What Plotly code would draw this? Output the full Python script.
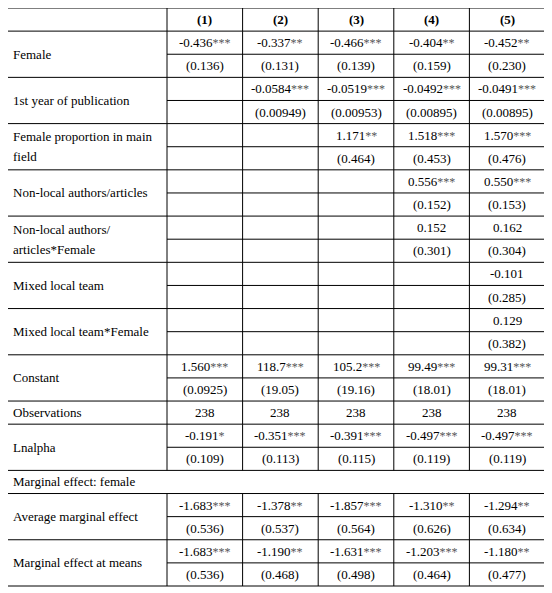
import plotly.graph_objects as go

# column headers
models = ["(1)", "(2)", "(3)", "(4)", "(5)"]

# regression rows: label, coefficients, standard errors
row_labels = [
    "Female",
    "1st year of publication",
    "Female proportion in main<br>field",
    "Non-local authors/articles",
    "Non-local authors/<br>articles*Female",
    "Mixed local team",
    "Mixed local team*Female",
    "Constant",
]
coefs = [
    ["-0.436***", "-0.337**", "-0.466***", "-0.404**", "-0.452**"],
    ["", "-0.0584***", "-0.0519***", "-0.0492***", "-0.0491***"],
    ["", "", "1.171**", "1.518***", "1.570***"],
    ["", "", "", "0.556***", "0.550***"],
    ["", "", "", "0.152", "0.162"],
    ["", "", "", "", "-0.101"],
    ["", "", "", "", "0.129"],
    ["1.560***", "118.7***", "105.2***", "99.49***", "99.31***"],
]
ses = [
    ["(0.136)", "(0.131)", "(0.139)", "(0.159)", "(0.230)"],
    ["", "(0.00949)", "(0.00953)", "(0.00895)", "(0.00895)"],
    ["", "", "(0.464)", "(0.453)", "(0.476)"],
    ["", "", "", "(0.152)", "(0.153)"],
    ["", "", "", "(0.301)", "(0.304)"],
    ["", "", "", "", "(0.285)"],
    ["", "", "", "", "(0.382)"],
    ["(0.0925)", "(19.05)", "(19.16)", "(18.01)", "(18.01)"],
]

observations = ["238", "238", "238", "238", "238"]
lnalpha_coef = ["-0.191*", "-0.351***", "-0.391***", "-0.497***", "-0.497***"]
lnalpha_se = ["(0.109)", "(0.113)", "(0.115)", "(0.119)", "(0.119)"]

marginal_title = "Marginal effect: female"
me_labels = ["Average marginal effect", "Marginal effect at means"]
me_coef = [
    ["-1.683***", "-1.378**", "-1.857***", "-1.310**", "-1.294**"],
    ["-1.683***", "-1.190**", "-1.631***", "-1.203***", "-1.180**"],
]
me_se = [
    ["(0.536)", "(0.537)", "(0.564)", "(0.626)", "(0.634)"],
    ["(0.536)", "(0.468)", "(0.498)", "(0.464)", "(0.477)"],
]

# table geometry (page pixels)
W, H = 552, 593
PAGE_MARGIN = 8  # default body margin of the html page
LEFT, LABEL_RIGHT, RIGHT = 4, 167, 545
TOP, BOTTOM = 8, 586
N_SUB = 25
ROW_H = (BOTTOM - TOP) / N_SUB
COL_W = (RIGHT - LABEL_RIGHT) / len(models)
LINE_GAP = 20
FONT = dict(family="Liberation Serif", size=13, color="black")

# blocks: (kind, label, list of value rows)
blocks = [("header", "", [models])]
for lab, c, s in zip(row_labels, coefs, ses):
    blocks.append(("pair", lab, [c, s]))
blocks.append(("single", "Observations", [observations]))
blocks.append(("pair", "Lnalpha", [lnalpha_coef, lnalpha_se]))
blocks.append(("title", marginal_title, []))
for lab, c, s in zip(me_labels, me_coef, me_se):
    blocks.append(("pair", lab, [c, s]))

fig = go.Figure()
shapes = []
annotations = []


def hline(x0, x1, y):
    shapes.append(dict(type="line", xref="x", yref="y", x0=x0, x1=x1, y0=y, y1=y,
                       line=dict(color="black", width=1)))


def vline(x, y0, y1):
    shapes.append(dict(type="line", xref="x", yref="y", x0=x, x1=x, y0=y0, y1=y1,
                       line=dict(color="black", width=1)))


def text(x, y, s, anchor="center"):
    annotations.append(dict(x=x, y=y, text=s, showarrow=False, xanchor=anchor,
                            yanchor="middle", font=FONT))


def fmt_value(v):
    # significance stars are drawn a bit smaller and lighter, as in the source
    num = v.rstrip("*")
    stars = v[len(num):]
    if stars:
        return num + '<span style="font-size:12px;color:#555555">%s</span>' % stars
    return num


col_edges = [LABEL_RIGHT + i * COL_W for i in range(len(models) + 1)]
col_centers = [LABEL_RIGHT + (i + 0.5) * COL_W for i in range(len(models))]

hline(LEFT, RIGHT, TOP)
y = TOP
for kind, label, rows in blocks:
    n = 1 if kind in ("header", "single", "title") else 2
    y_end = y + n * ROW_H
    if kind == "title":
        text(LEFT + 7, y + ROW_H / 2, label, "left")
    else:
        for x in col_edges[:-1]:
            vline(x, y, y_end)
        if label:
            parts = label.split("<br>")
            mid = (y + y_end) / 2
            for j, p in enumerate(parts):
                text(LEFT + 7, mid + (j - (len(parts) - 1) / 2) * LINE_GAP, p, "left")
        for k, vals in enumerate(rows):
            yc = y + (k + 0.5) * ROW_H
            for xc, v in zip(col_centers, vals):
                if v:
                    text(xc, yc, "<b>%s</b>" % v if kind == "header" else fmt_value(v))
        if n == 2:
            hline(LABEL_RIGHT, RIGHT, y + ROW_H)
    hline(LEFT, RIGHT, y_end)
    y = y_end

vline(LEFT, TOP, BOTTOM)
vline(RIGHT, TOP, BOTTOM)

# the figure starts PAGE_MARGIN px into the page, so shift the axis ranges
fig.update_layout(
    width=W - PAGE_MARGIN, height=H - PAGE_MARGIN,
    margin=dict(l=0, r=0, t=0, b=0),
    paper_bgcolor="white", plot_bgcolor="white",
    xaxis=dict(range=[PAGE_MARGIN, W], visible=False, fixedrange=True),
    yaxis=dict(range=[H, PAGE_MARGIN], visible=False, fixedrange=True),
    shapes=shapes,
    annotations=annotations,
    showlegend=False,
)

fig.write_html("out.html")
